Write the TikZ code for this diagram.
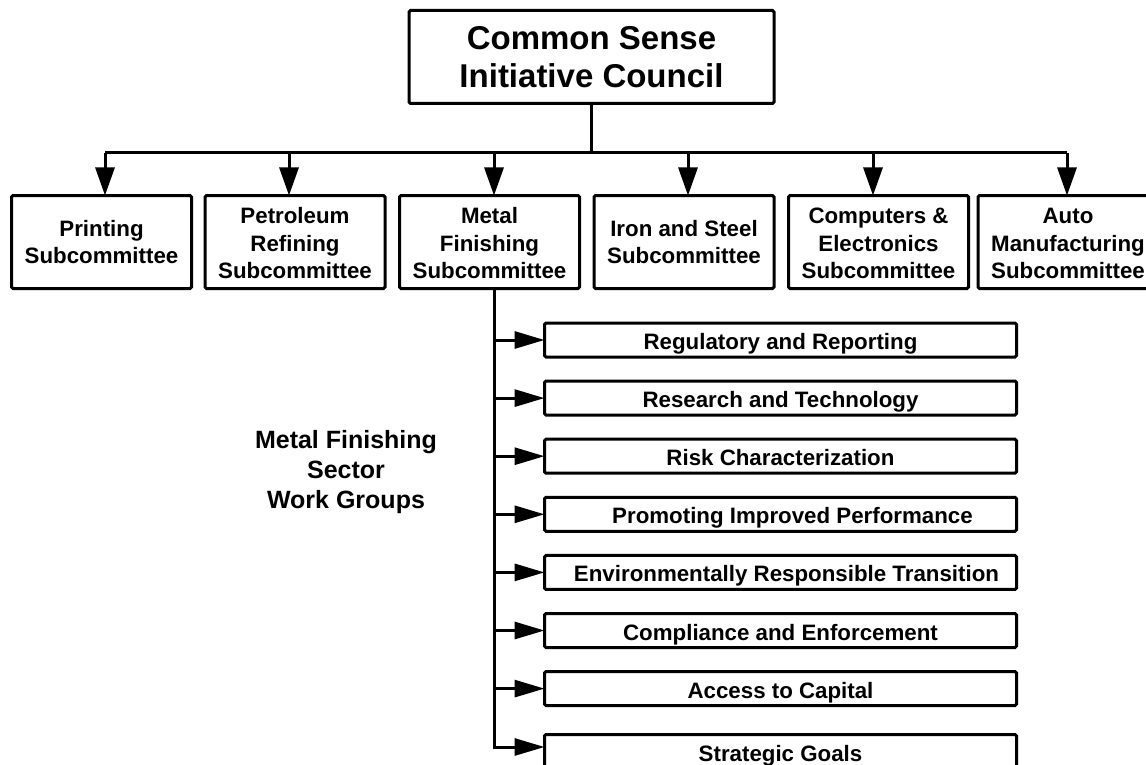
\documentclass[tikz,border=0pt]{standalone}
\usepackage{fontspec}
\setmainfont{Liberation Sans}
\usetikzlibrary{arrows.meta}
\begin{document}
\begin{tikzpicture}[x=1pt,y=-1pt,
  box/.style={draw, line width=3pt, rounded corners=1.5pt, inner sep=0pt, outer sep=0pt, align=center},
  council/.style={box, minimum width=365pt, minimum height=93pt, font=\fontsize{33}{37.5}\selectfont\bfseries},
  subbox/.style={box, minimum width=180pt, minimum height=93pt, font=\fontsize{22.3}{27.5}\selectfont\bfseries},
  wgbox/.style={box, minimum width=472pt, minimum height=34pt, text height=19pt, text depth=0pt,
    font=\fontsize{22.3}{26}\selectfont\bfseries},
  link/.style={line width=3pt},
  down/.style={link, -{Triangle[length=28pt,width=19pt]}},
  toward/.style={link, -{Triangle[length=30pt,width=17pt]}},
  caption/.style={align=center, font=\fontsize{25}{30}\selectfont\bfseries}
]
\useasboundingbox (0,0) rectangle (1146,765);
\clip (0,0) rectangle (1146,765);

% council
\node[council] (council) at (591.5,57) {Common Sense\\Initiative Council};

% subcommittees
\node[subbox] (printing)  at (101.5,242) {Printing\\Subcommittee};
\node[subbox] (petroleum) at (295,242)   {\rule{0pt}{19pt}Petroleum\\Refining\\Subcommittee};
\node[subbox] (metal)     at (489.5,242) {\rule{0pt}{19pt}Metal\\Finishing\\Subcommittee};
\node[subbox] (iron)      at (684,242)   {Iron and Steel\\Subcommittee};
\node[subbox] (computers) at (878.5,242) {\rule{0pt}{19pt}Computers \&\\Electronics\\Subcommittee};
\node[subbox] (auto)      at (1068,242)  {\rule{0pt}{19pt}Auto\\Manufacturing\\Subcommittee};

% distribution bus
\coordinate (busL) at ([xshift=3.5pt]printing.north |- 0,153);
\coordinate (busR) at ([xshift=-1pt]auto.north |- 0,153);
\draw[link] (busL) -- (busR);
\draw[link] (council.south) -- (council.south |- busL);
\draw[down] (busL) -- ([xshift=3.5pt]printing.north);
\draw[down] ([xshift=-6pt]petroleum.north |- busL) -- ([xshift=-6pt]petroleum.north);
\draw[down] ([xshift=4.5pt]metal.north |- busL) -- ([xshift=4.5pt]metal.north);
\draw[down] ([xshift=4pt]iron.north |- busL) -- ([xshift=4pt]iron.north);
\draw[down] ([xshift=-5.5pt]computers.north |- busL) -- ([xshift=-5.5pt]computers.north);
\draw[down] (busR) -- ([xshift=-1pt]auto.north);

% work groups
\node[wgbox] (wg1) at (780.5,340.0) {Regulatory and Reporting};
\node[wgbox] (wg2) at (780.5,398.1) {Research and Technology};
\node[wgbox] (wg3) at (780.5,456.2) {Risk Characterization};
\node[wgbox] (wg4) at (780.5,514.3) {\hspace*{24pt}Promoting Improved Performance};
\node[wgbox] (wg5) at (780.5,572.4) {\hspace*{12pt}Environmentally Responsible Transition};
\node[wgbox] (wg6) at (780.5,630.5) {Compliance and Enforcement};
\node[wgbox] (wg7) at (780.5,688.6) {Access to Capital};
\node[wgbox] (wg8) at (780.5,751.5) {Strategic Goals};

\node[caption] (sector) at (346,472) {Metal Finishing\\Sector\\Work Groups};

% spine from the metal finishing subcommittee
\coordinate (spine) at ([xshift=4.5pt]metal.south);
\draw[toward] (spine) |- ([yshift=4.5pt]wg8.west);
\foreach \k in {1,...,7}{
  \draw[toward] (wg\k.west -| spine) -- (wg\k.west);
}
\end{tikzpicture}
\end{document}
